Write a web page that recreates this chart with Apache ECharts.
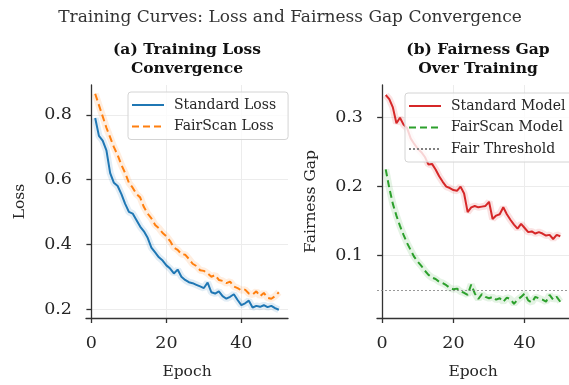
<!DOCTYPE html>
<html>
<head>
<meta charset="utf-8">
<title>Training Curves</title>
<script src="https://cdn.jsdelivr.net/npm/echarts@6/dist/echarts.min.js"></script>
<style>
  html, body { margin: 0; padding: 0; background: #fff; }
  #chart { width: 569px; height: 385px; }
</style>
</head>
<body>
<div id="chart"></div>
<script>
const epochs = [1, 2, 3, 4, 5, 6, 7, 8, 9, 10, 11, 12, 13, 14, 15, 16, 17, 18, 19, 20,
  21, 22, 23, 24, 25, 26, 27, 28, 29, 30, 31, 32, 33, 34, 35, 36, 37, 38, 39, 40,
  41, 42, 43, 44, 45, 46, 47, 48, 49, 50];

const standardLoss = [0.790, 0.735, 0.720, 0.690, 0.620, 0.590, 0.580, 0.555, 0.525, 0.500,
  0.495, 0.475, 0.455, 0.440, 0.420, 0.390, 0.375, 0.360, 0.350, 0.335,
  0.325, 0.310, 0.322, 0.300, 0.290, 0.283, 0.280, 0.275, 0.270, 0.265,
  0.282, 0.252, 0.248, 0.255, 0.240, 0.232, 0.238, 0.246, 0.228, 0.212,
  0.218, 0.226, 0.205, 0.210, 0.207, 0.212, 0.206, 0.210, 0.203, 0.198];

const fairscanLoss = [0.865, 0.830, 0.795, 0.760, 0.730, 0.700, 0.675, 0.645, 0.620, 0.590,
  0.575, 0.555, 0.545, 0.515, 0.495, 0.480, 0.460, 0.450, 0.435, 0.425,
  0.410, 0.390, 0.383, 0.370, 0.368, 0.355, 0.340, 0.333, 0.320, 0.318,
  0.310, 0.300, 0.305, 0.290, 0.287, 0.280, 0.285, 0.270, 0.265, 0.258,
  0.260, 0.248, 0.245, 0.255, 0.240, 0.250, 0.235, 0.232, 0.240, 0.252];

const standardGap = [0.333, 0.327, 0.315, 0.292, 0.300, 0.290, 0.285, 0.270, 0.262, 0.255,
  0.250, 0.243, 0.232, 0.233, 0.225, 0.215, 0.207, 0.200, 0.198, 0.195,
  0.194, 0.200, 0.190, 0.163, 0.170, 0.172, 0.170, 0.171, 0.172, 0.178,
  0.153, 0.158, 0.160, 0.170, 0.160, 0.152, 0.145, 0.139, 0.146, 0.140,
  0.134, 0.135, 0.132, 0.134, 0.132, 0.129, 0.130, 0.124, 0.130, 0.128];

const fairscanGap = [0.225, 0.198, 0.175, 0.158, 0.143, 0.130, 0.118, 0.108, 0.098, 0.091,
  0.085, 0.078, 0.072, 0.068, 0.066, 0.062, 0.060, 0.057, 0.053, 0.051,
  0.052, 0.048, 0.046, 0.043, 0.058, 0.045, 0.037, 0.044, 0.040, 0.038,
  0.040, 0.036, 0.038, 0.033, 0.039, 0.037, 0.030, 0.036, 0.040, 0.045,
  0.035, 0.032, 0.040, 0.038, 0.036, 0.033, 0.043, 0.036, 0.040, 0.033];

const fairThreshold = 0.05;

const epochTicks = [0, 20, 40];
const lossTicks = [0.2, 0.4, 0.6, 0.8];
const gapTicks = [0.1, 0.2, 0.3];

const FONT = 'DejaVu Serif';
const TEXT = '#262626';
const SPINE = '#333333';

const chart = echarts.init(document.getElementById('chart'));

const pairs = vals => epochs.map((e, i) => [e, vals[i]]);

// light band drawn under each curve
function band(vals, color, idx) {
  return {
    name: 'band' + idx + color,
    type: 'line',
    xAxisIndex: idx,
    yAxisIndex: idx,
    data: pairs(vals),
    symbol: 'none',
    silent: true,
    z: 1,
    lineStyle: { color: color, width: 7, opacity: 0.13 },
  };
}

function curve(name, vals, color, dash, idx) {
  return {
    name: name,
    type: 'line',
    xAxisIndex: idx,
    yAxisIndex: idx,
    data: pairs(vals),
    symbol: 'none',
    z: 3,
    lineStyle: { color: color, width: 2, type: dash },
    itemStyle: { color: color },
  };
}

function xAxisFor(idx) {
  return {
    type: 'value',
    gridIndex: idx,
    min: -1.45,
    max: 52.45,
    name: 'Epoch',
    nameLocation: 'middle',
    nameGap: 46,
    nameTextStyle: { fontFamily: FONT, fontSize: 15.5, color: TEXT },
    axisLine: { lineStyle: { color: SPINE, width: 1.3 } },
    axisTick: { length: 5, customValues: epochTicks, lineStyle: { color: SPINE, width: 1.3 } },
    axisLabel: { customValues: epochTicks, margin: 16, fontFamily: FONT, fontSize: 17.5, color: TEXT },
    splitLine: { show: true, lineStyle: { color: '#ececec', width: 1 } },
  };
}

function yAxisFor(idx, name, min, max, ticks) {
  return {
    type: 'value',
    gridIndex: idx,
    min: min,
    max: max,
    name: name,
    nameLocation: 'middle',
    nameGap: 58,
    nameRotate: 90,
    nameTextStyle: { fontFamily: FONT, fontSize: 15.5, color: TEXT },
    axisLine: { show: true, lineStyle: { color: SPINE, width: 1.3 } },
    axisTick: { show: true, length: 5, customValues: ticks, lineStyle: { color: SPINE, width: 1.3 } },
    axisLabel: { customValues: ticks, margin: 14, fontFamily: FONT, fontSize: 17.5, color: TEXT },
    splitLine: { show: true, lineStyle: { color: '#ececec', width: 1 } },
  };
}

function legendAt(left, top, names) {
  return {
    data: names,
    orient: 'vertical',
    left: left,
    top: top,
    itemWidth: 32,
    itemHeight: 14,
    itemGap: 7.5,
    padding: [6, 12, 6, 3],
    backgroundColor: 'rgba(255,255,255,0.8)',
    borderColor: '#d4d4d4',
    borderWidth: 1,
    borderRadius: 3,
    itemStyle: { opacity: 0 },
    textStyle: { fontFamily: FONT, fontSize: 14, color: TEXT, lineHeight: 14, padding: [0, 0, 0, 5] },
  };
}

const option = {
  animation: false,
  backgroundColor: '#ffffff',
  graphic: [
    {
      type: 'text', x: 290, y: 18,
      style: { text: 'Training Curves: Loss and Fairness Gap Convergence', font: '17px "DejaVu Serif"', fill: '#333', align: 'center', verticalAlign: 'middle' },
    },
    {
      type: 'text', x: 187, y: 59,
      style: { text: '(a) Training Loss\nConvergence', font: 'bold 15.5px "DejaVu Serif"', fill: '#111', align: 'center', verticalAlign: 'middle', lineHeight: 19 },
    },
    {
      type: 'text', x: 478, y: 59,
      style: { text: '(b) Fairness Gap\nOver Training', font: 'bold 15.5px "DejaVu Serif"', fill: '#111', align: 'center', verticalAlign: 'middle', lineHeight: 19 },
    },
  ],
  grid: [
    { left: 86, top: 85, width: 202, height: 235 },
    { left: 377, top: 85, width: 202, height: 235 },
  ],
  xAxis: [xAxisFor(0), xAxisFor(1)],
  yAxis: [
    yAxisFor(0, 'Loss', 0.1725, 0.892, lossTicks),
    yAxisFor(1, 'Fairness Gap', 0.0094, 0.3475, gapTicks),
  ],
  legend: [
    legendAt(128, 92, ['Standard Loss', 'FairScan Loss']),
    legendAt(405, 93, ['Standard Model', 'FairScan Model', 'Fair Threshold']),
  ],
  series: [
    band(standardLoss, '#1f77b4', 0),
    band(fairscanLoss, '#ff7f0e', 0),
    curve('Standard Loss', standardLoss, '#1f77b4', 'solid', 0),
    curve('FairScan Loss', fairscanLoss, '#ff7f0e', [7, 4], 0),
    band(standardGap, '#d62728', 1),
    band(fairscanGap, '#2ca02c', 1),
    curve('Standard Model', standardGap, '#d62728', 'solid', 1),
    curve('FairScan Model', fairscanGap, '#2ca02c', [7, 4], 1),
    {
      name: 'Fair Threshold',
      type: 'line',
      xAxisIndex: 1,
      yAxisIndex: 1,
      data: [],
      symbol: 'none',
      lineStyle: { color: '#808080', width: 1.2, type: [2, 2] },
      itemStyle: { color: '#808080' },
      markLine: {
        silent: true,
        symbol: ['none', 'none'],
        label: { show: false },
        lineStyle: { color: '#808080', width: 1.2, type: [2, 2], opacity: 0.8 },
        data: [{ yAxis: fairThreshold }],
      },
    },
  ],
};

chart.setOption(option);
</script>
</body>
</html>
